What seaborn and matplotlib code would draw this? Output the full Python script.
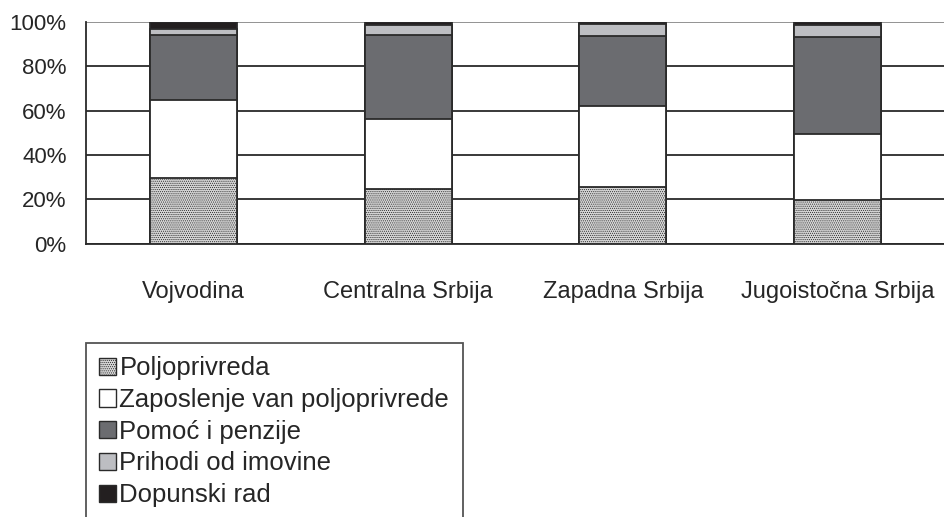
"""
Stacked income structure by region (share of household income sources)
"""

import pandas as pd
import matplotlib.pyplot as plt
import seaborn as sns
import numpy as np
from matplotlib.patches import Patch

sns.set_style("white")
plt.rcParams['font.family'] = ['Liberation Sans', 'DejaVu Sans']
plt.rcParams['hatch.color'] = '#a0a0a0'
plt.rcParams['hatch.linewidth'] = 0.5

regions = ['Vojvodina', 'Centralna Srbija', 'Zapadna Srbija', 'Jugoistočna Srbija']
sources = ['Poljoprivreda', 'Zaposlenje van poljoprivrede', 'Pomoć i penzije',
           'Prihodi od imovine', 'Dopunski rad']

poljoprivreda = [29.5, 24.7, 25.4, 19.6]
zaposlenje = [35.2, 31.3, 36.7, 29.8]
pomoc = [29.5, 38.1, 31.7, 43.8]
imovina = [2.7, 4.5, 5.4, 5.4]
dopunski = [3.1, 1.4, 0.8, 1.4]

colors = ['#d6d6d6', '#ffffff', '#6b6c70', '#bdbec2', '#231f20']
hatches = ['........', '', '', '', '']


def main():
    df = pd.DataFrame({'region': regions,
                       sources[0]: poljoprivreda,
                       sources[1]: zaposlenje,
                       sources[2]: pomoc,
                       sources[3]: imovina,
                       sources[4]: dopunski})
    cum = df[sources].cumsum(axis=1)

    fig = plt.figure(figsize=(9.45, 5.17), dpi=100)
    ax = fig.add_axes([86 / 945, 1 - 243.5 / 517, 1 - 86 / 945, (243.5 - 22) / 517])

    # draw cumulative layers from top to bottom so each covers the next
    for i in reversed(range(len(sources))):
        sns.barplot(x=df['region'], y=cum[sources[i]], color=colors[i],
                    width=0.405, edgecolor='#2a2a2a', linewidth=1.3,
                    hatch=hatches[i] if hatches[i] else None,
                    saturation=1, ax=ax, zorder=3)

    ax.set_ylim(0, 100)
    ax.set_xlim(-0.5, 3.5)
    ax.set_yticks([0, 20, 40, 60, 80, 100])
    ax.set_yticklabels([f'{v}%' for v in [0, 20, 40, 60, 80, 100]], fontsize=16)
    ax.yaxis.grid(True, color='#2a2a2a', linewidth=1.3, zorder=0)
    ax.get_ygridlines()[-1].set_color('#8a8a8a')
    ax.set_axisbelow(True)

    ax.set_xlabel('')
    ax.set_ylabel('')
    ax.set_xticks([0, 1, 2, 3])
    ax.set_xticklabels(regions, fontsize=17)
    ax.set_xticks([-0.5, 0.5, 1.5, 2.5], minor=True)
    ax.tick_params(axis='x', which='major', length=0, pad=27)
    ax.tick_params(axis='x', which='minor', length=8, width=1.3, color='#2a2a2a',
                   direction='out')
    ax.tick_params(axis='y', length=6, width=1.3, color='#2a2a2a', direction='out', pad=8)

    for side in ['top', 'right']:
        ax.spines[side].set_visible(False)
    for side in ['left', 'bottom']:
        ax.spines[side].set_color('#2a2a2a')
        ax.spines[side].set_linewidth(1.3)

    handles = [Patch(facecolor=colors[i], edgecolor='#2a2a2a', linewidth=1.0,
                     hatch=hatches[i] if hatches[i] else None)
               for i in range(len(sources))]
    leg = fig.legend(handles, sources, loc='upper left',
                     bbox_to_anchor=(86 / 945, 1 - 343 / 517),
                     fontsize=18.5, frameon=True, fancybox=False,
                     handlelength=0.66, handleheight=0.66, handletextpad=0.12,
                     labelspacing=0.3, borderpad=0.52, borderaxespad=0)
    leg.get_frame().set_edgecolor('#2a2a2a')
    leg.get_frame().set_linewidth(1.3)

    plt.savefig('out.png', dpi=100, facecolor='white')


if __name__ == "__main__":
    main()
